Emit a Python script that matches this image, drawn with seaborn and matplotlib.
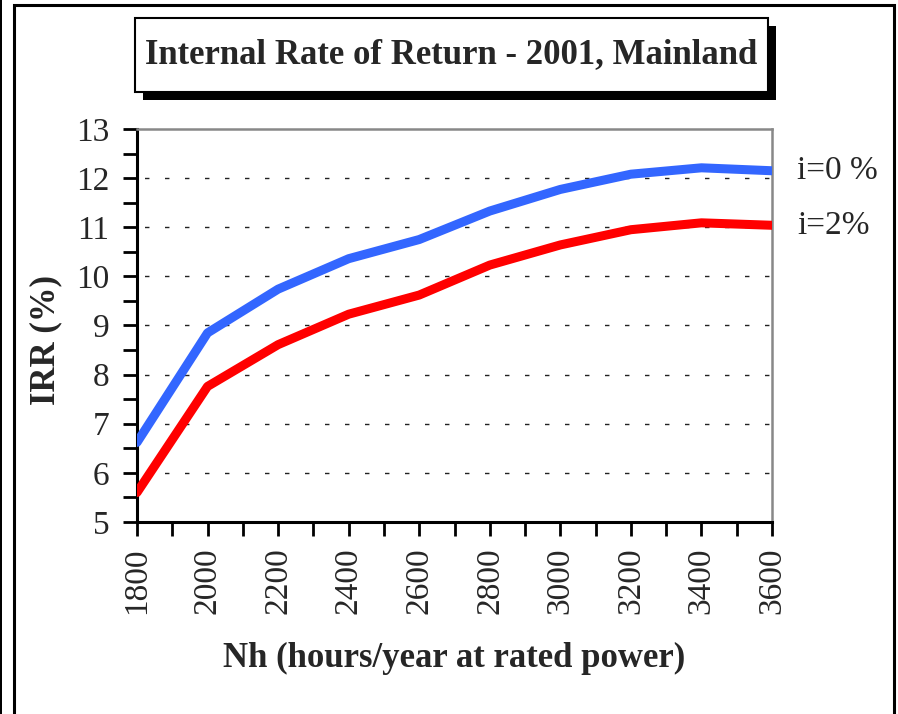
import matplotlib
matplotlib.use("Agg")
import matplotlib.pyplot as plt
from matplotlib.patches import Rectangle
from matplotlib.ticker import MultipleLocator
import pandas as pd
import seaborn as sns

hours = [1800, 2000, 2200, 2400, 2600, 2800, 3000, 3200, 3400, 3600]
irr_i0 = [6.62, 8.85, 9.74, 10.36, 10.75, 11.33, 11.77, 12.08, 12.21, 12.15]
irr_i2 = [5.60, 7.76, 8.61, 9.23, 9.62, 10.23, 10.64, 10.95, 11.09, 11.04]
series_names = ["i=0 %", "i=2%"]
colors = ["#3366FF", "#FF0000"]

title = "Internal Rate of Return - 2001, Mainland"
xlabel = "Nh (hours/year at rated power)"
ylabel = "IRR (%)"


def main():
    df = pd.DataFrame({
        "hours": hours * 2,
        "irr": irr_i0 + irr_i2,
        "series": [series_names[0]] * len(hours) + [series_names[1]] * len(hours),
    })

    sns.set_style("white")
    plt.rcParams["font.family"] = ["Liberation Serif", "DejaVu Serif"]

    fig = plt.figure(figsize=(8.98, 7.14), dpi=100)
    ax = fig.add_axes([137 / 898, 1 - 522 / 714, 635 / 898, 393 / 714])

    sns.lineplot(data=df, x="hours", y="irr", hue="series",
                 palette=dict(zip(series_names, colors)), linewidth=6.5,
                 legend=False, ax=ax, solid_capstyle="round", zorder=3)

    ax.set_xlim(1800, 3600)
    ax.set_ylim(5, 13)
    ax.xaxis.set_major_locator(MultipleLocator(200))
    ax.xaxis.set_minor_locator(MultipleLocator(100))
    ax.yaxis.set_major_locator(MultipleLocator(1))
    ax.yaxis.set_minor_locator(MultipleLocator(0.5))

    # dotted grid at each whole percent
    for y in range(6, 13):
        ax.axhline(y, color="#222222", linewidth=1.0,
                   linestyle=(9, (3.2, 11.2)), zorder=1)

    ax.tick_params(axis="both", which="both", direction="out", length=10,
                   width=2, color="black", left=True, bottom=True)
    ax.tick_params(axis="y", which="major", labelsize=24, pad=10)
    ax.tick_params(axis="x", which="major", labelsize=24, pad=8,
                   labelrotation=90)

    for side in ["left", "bottom"]:
        ax.spines[side].set_color("black")
        ax.spines[side].set_linewidth(2.2)
    for side in ["top", "right"]:
        ax.spines[side].set_color("#888888")
        ax.spines[side].set_linewidth(1.8)

    ax.set_xlabel(xlabel, fontsize=25, fontweight="bold")
    ax.set_ylabel(ylabel, fontsize=25, fontweight="bold")
    ax.xaxis.set_label_coords(0.5, -0.305)
    ax.yaxis.set_label_coords(-0.118, 0.463)

    for vals, name in zip([irr_i0, irr_i2], series_names):
        ax.annotate(name, xy=(hours[-1], vals[-1]), xytext=(18, 0),
                    textcoords="offset points", va="center", ha="left",
                    fontsize=24, annotation_clip=False)

    # outer frame
    fig.patches.append(Rectangle((14 / 898, -0.05), 880 / 898, 1.05 - 5 / 714,
                                 transform=fig.transFigure, fill=False,
                                 edgecolor="black", linewidth=2.2))
    fig.patches.append(Rectangle((0.0, -0.05), 1.5 / 898, 1.1,
                                 transform=fig.transFigure, facecolor="black",
                                 edgecolor="none"))

    # title box with shadow
    bx0, by0, bw, bh = 135 / 898, 1 - 92 / 714, 633 / 898, 74 / 714
    fig.patches.append(Rectangle((bx0 + 8 / 898, by0 - 8 / 714), bw, bh,
                                 transform=fig.transFigure, facecolor="black",
                                 edgecolor="none"))
    fig.patches.append(Rectangle((bx0, by0), bw, bh,
                                 transform=fig.transFigure, facecolor="white",
                                 edgecolor="black", linewidth=1.5))
    fig.text(bx0 + bw / 2, by0 + bh / 2, title, ha="center", va="center",
             fontsize=25, fontweight="bold")

    fig.savefig("out.png", dpi=100)
    plt.close(fig)


if __name__ == "__main__":
    main()
